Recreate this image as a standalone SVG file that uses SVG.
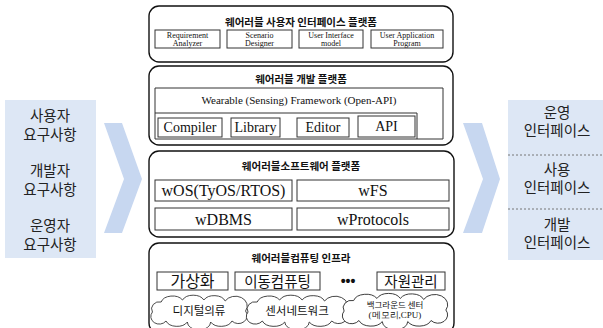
<svg xmlns="http://www.w3.org/2000/svg" xmlns:xlink="http://www.w3.org/1999/xlink" width="603" height="328" viewBox="0 0 603 328">
<style>
.panel{fill:#fff;stroke:#111;stroke-width:1.4}
.box{fill:#fff;stroke:#333;stroke-width:1}
.kt{font-family:"Noto Sans CJK KR","Noto Sans",sans-serif;text-anchor:middle;fill:#111}
.title{font-size:10.5px;font-weight:bold}
.st{font-family:"Liberation Serif","DejaVu Serif",serif;text-anchor:middle;fill:#111}
.side{fill:#dde7f5}
.chev{fill:#c7d7f0}
.req{font-family:"Noto Sans CJK KR","Noto Sans",sans-serif;font-size:14.5px;text-anchor:middle;fill:#222}
.cloud{fill:#fff;stroke:#333;stroke-width:0.9}
</style>
<defs>
<path id="cloudShape" d="M-48,1 A8,7 0 0 1 -39,-9 A12,8 0 0 1 -17,-11 A12,8 0 0 1 5,-11 A12,8 0 0 1 27,-10 A10,8 0 0 1 48,0 A9,8 0 0 1 34,10 A12,8 0 0 1 12,11 A12,8 0 0 1 -12,11 A12,8 0 0 1 -34,10 A8,7 0 0 1 -48,1 Z"/>
</defs>

<g id="requirements">
<rect class="side" x="5" y="100" width="91" height="158"/>
<text class="req"><tspan x="50" y="121">사용자</tspan><tspan x="50" y="139.5">요구사항</tspan></text>
<text class="req"><tspan x="50" y="176">개발자</tspan><tspan x="50" y="194.5">요구사항</tspan></text>
<text class="req"><tspan x="50" y="231">운영자</tspan><tspan x="50" y="249.5">요구사항</tspan></text>
</g>

<g id="interfaces">
<rect class="side" x="508" y="100" width="95" height="160"/>
<line x1="508" y1="155" x2="603" y2="155" stroke="#777" stroke-width="1" stroke-dasharray="2,2"/>
<line x1="508" y1="209" x2="603" y2="209" stroke="#777" stroke-width="1" stroke-dasharray="2,2"/>
<text class="req"><tspan x="557" y="117.5">운영</tspan><tspan x="557" y="136">인터페이스</tspan></text>
<text class="req"><tspan x="557" y="174.5">사용</tspan><tspan x="557" y="193">인터페이스</tspan></text>
<text class="req"><tspan x="557" y="229.5">개발</tspan><tspan x="557" y="248">인터페이스</tspan></text>
</g>

<g id="connectors">
<polygon class="chev" points="104,123 122,123 142,179 122,233 104,233 124,179"/>
<polygon class="chev" points="463,123 482,123 500,179 482,233 463,233 483,179"/>
</g>

<g id="user-platform">
<rect class="panel" x="149" y="6" width="304" height="56" rx="10"/>
<text class="kt title" x="301" y="26">웨어러블 사용자 인터페이스 플랫폼</text>
<rect class="box" x="155" y="30" width="65" height="18"/>
<rect class="box" x="227" y="30" width="65" height="18"/>
<rect class="box" x="299" y="30" width="64" height="18"/>
<rect class="box" x="371" y="30" width="72" height="18"/>
<g class="st" font-size="8">
<text x="187.5" y="37.5">Requirement</text><text x="187.5" y="45.5">Analyzer</text>
<text x="259.5" y="37.5">Scenario</text><text x="259.5" y="45.5">Designer</text>
<text x="331" y="37.5">User Interface</text><text x="331" y="45.5">model</text>
<text x="407" y="37.5">User Application</text><text x="407" y="45.5">Program</text>
</g>
</g>

<g id="dev-platform">
<rect class="panel" x="149" y="66" width="304" height="79" rx="10"/>
<text class="kt title" x="301" y="83">웨어러블 개발 플랫폼</text>
<path d="M155,88 H443 V139 H155 Z M155,113 H417 V139" fill="none" stroke="#333" stroke-width="1"/>
<text class="st" x="299" y="104" font-size="11">Wearable (Sensing) Framework (Open-API)</text>
<rect class="box" x="158" y="118" width="64" height="19"/>
<rect class="box" x="231" y="118" width="49" height="19"/>
<rect class="box" x="297" y="118" width="52" height="19"/>
<rect class="box" x="358" y="116" width="57" height="21"/>
<g class="st" font-size="14">
<text x="190" y="132">Compiler</text>
<text x="255.5" y="132">Library</text>
<text x="323" y="132">Editor</text>
<text x="386.5" y="131">API</text>
</g>
</g>

<g id="sw-platform">
<rect class="panel" x="149" y="151" width="305" height="86" rx="10"/>
<text class="kt title" x="301" y="170">웨어러블소프트웨어 플랫폼</text>
<rect class="box" x="155" y="180" width="137" height="21"/>
<rect class="box" x="297" y="180" width="152" height="21"/>
<rect class="box" x="155" y="208" width="137" height="22"/>
<rect class="box" x="297" y="208" width="152" height="22"/>
<g class="st" font-size="16">
<text x="223.5" y="196">wOS(TyOS/RTOS)</text>
<text x="373" y="196">wFS</text>
<text x="223.5" y="224.5">wDBMS</text>
<text x="373" y="224.5">wProtocols</text>
</g>
</g>

<g id="infra">
<rect class="panel" x="149" y="243" width="305" height="90" rx="10"/>
<text class="kt title" x="301" y="262">웨어러블컴퓨팅 인프라</text>
<rect class="box" x="157" y="272" width="71" height="18"/>
<rect class="box" x="235" y="272" width="85" height="18"/>
<rect class="box" x="377" y="272" width="68" height="18"/>
<text class="kt" x="192.5" y="287" font-size="16">가상화</text>
<text class="kt" x="277.5" y="286.5" font-size="14.5">이동컴퓨팅</text>
<text x="348" y="286" font-family="Liberation Sans,sans-serif" font-size="14" font-weight="bold" text-anchor="middle" fill="#111">•••</text>
<text class="kt" x="411" y="286.5" font-size="14.5">자원관리</text>
<use href="#cloudShape" class="cloud" transform="translate(199,311) scale(0.97,1)"/>
<use href="#cloudShape" class="cloud" transform="translate(297,311) scale(1.02,1)"/>
<use href="#cloudShape" class="cloud" transform="translate(395,310) scale(1.06,1.05)"/>
<text class="kt" x="199" y="314.5" font-size="11.5">디지털의류</text>
<text class="kt" x="297" y="314.5" font-size="11.5">센서네트워크</text>
<text class="kt" x="395" y="307.5" font-size="8.5">백그라운드 센터</text>
<text class="st" x="395" y="318" font-size="9">(메모리,CPU)</text>
</g>
</svg>
